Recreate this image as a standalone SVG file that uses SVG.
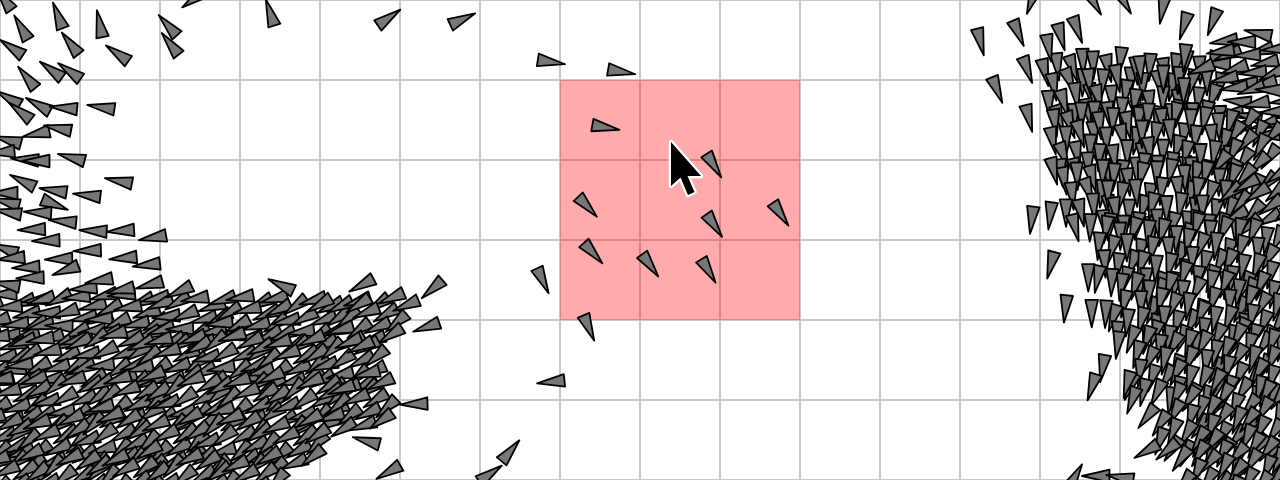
<svg xmlns="http://www.w3.org/2000/svg" width="1280" height="480" viewBox="0 0 1280 480">
<style>
.grid line{stroke:#c8c8c8;stroke-width:2}
.boid{fill:#777;stroke:#000;stroke-width:1.8;stroke-linejoin:round}
</style>
<defs>
<path id="b" class="boid" d="M18 0 L-9.5 -6.3 L-9.5 6.3 Z"/>
<g id="L1">
<use href="#b" transform="translate(6 5) rotate(162)"/><use href="#b" transform="translate(24 3) rotate(170)"/><use href="#b" transform="translate(43 8) rotate(154)"/><use href="#b" transform="translate(58 4) rotate(165)"/>
<use href="#b" transform="translate(12 17) rotate(150)"/><use href="#b" transform="translate(31 15) rotate(166)"/><use href="#b" transform="translate(50 19) rotate(158)"/>
<use href="#b" transform="translate(3 29) rotate(172)"/><use href="#b" transform="translate(21 30) rotate(152)"/><use href="#b" transform="translate(40 31) rotate(164)"/><use href="#b" transform="translate(59 28) rotate(147)"/>
<use href="#b" transform="translate(13 42) rotate(158)"/><use href="#b" transform="translate(33 43) rotate(171)"/><use href="#b" transform="translate(52 40) rotate(155)"/>
</g>
<g id="L2">
<use href="#b" transform="translate(3 8) rotate(158)"/><use href="#b" transform="translate(20 5) rotate(148)"/><use href="#b" transform="translate(38 2) rotate(168)"/><use href="#b" transform="translate(55 9) rotate(160)"/>
<use href="#b" transform="translate(10 21) rotate(172)"/><use href="#b" transform="translate(28 18) rotate(155)"/><use href="#b" transform="translate(47 22) rotate(163)"/><use href="#b" transform="translate(62 20) rotate(150)"/>
<use href="#b" transform="translate(5 34) rotate(160)"/><use href="#b" transform="translate(24 33) rotate(176)"/><use href="#b" transform="translate(41 36) rotate(150)"/><use href="#b" transform="translate(57 34) rotate(166)"/>
<use href="#b" transform="translate(16 45) rotate(154)"/><use href="#b" transform="translate(46 46) rotate(162)"/>
</g>
<g id="R1">
<use href="#b" transform="translate(5 6) rotate(88)"/><use href="#b" transform="translate(19 3) rotate(96)"/><use href="#b" transform="translate(33 8) rotate(84)"/><use href="#b" transform="translate(45 4) rotate(100)"/>
<use href="#b" transform="translate(11 22) rotate(92)"/><use href="#b" transform="translate(27 20) rotate(80)"/><use href="#b" transform="translate(41 24) rotate(104)"/>
<use href="#b" transform="translate(3 38) rotate(98)"/><use href="#b" transform="translate(17 40) rotate(86)"/><use href="#b" transform="translate(31 36) rotate(94)"/><use href="#b" transform="translate(46 40) rotate(90)"/>
<use href="#b" transform="translate(9 54) rotate(84)"/><use href="#b" transform="translate(25 56) rotate(100)"/><use href="#b" transform="translate(39 54) rotate(92)"/>
</g>
<g id="R2">
<use href="#b" transform="translate(8 3) rotate(94)"/><use href="#b" transform="translate(22 8) rotate(84)"/><use href="#b" transform="translate(36 2) rotate(102)"/>
<use href="#b" transform="translate(2 20) rotate(90)"/><use href="#b" transform="translate(16 22) rotate(100)"/><use href="#b" transform="translate(30 19) rotate(86)"/><use href="#b" transform="translate(44 23) rotate(96)"/>
<use href="#b" transform="translate(9 37) rotate(82)"/><use href="#b" transform="translate(23 39) rotate(92)"/><use href="#b" transform="translate(38 35) rotate(104)"/>
<use href="#b" transform="translate(4 53) rotate(96)"/><use href="#b" transform="translate(18 55) rotate(88)"/><use href="#b" transform="translate(32 52) rotate(100)"/><use href="#b" transform="translate(46 56) rotate(84)"/>
</g>
</defs>
<rect width="1280" height="480" fill="#fff"/>
<g class="grid" id="grid">
<line x1="0" y1="0" x2="0" y2="480"/><line x1="80" y1="0" x2="80" y2="480"/><line x1="160" y1="0" x2="160" y2="480"/><line x1="240" y1="0" x2="240" y2="480"/><line x1="320" y1="0" x2="320" y2="480"/><line x1="400" y1="0" x2="400" y2="480"/><line x1="480" y1="0" x2="480" y2="480"/><line x1="560" y1="0" x2="560" y2="480"/><line x1="640" y1="0" x2="640" y2="480"/><line x1="720" y1="0" x2="720" y2="480"/><line x1="800" y1="0" x2="800" y2="480"/><line x1="880" y1="0" x2="880" y2="480"/><line x1="960" y1="0" x2="960" y2="480"/><line x1="1040" y1="0" x2="1040" y2="480"/><line x1="1120" y1="0" x2="1120" y2="480"/><line x1="1200" y1="0" x2="1200" y2="480"/><line x1="1280" y1="0" x2="1280" y2="480"/>
<line x1="0" y1="0" x2="1280" y2="0"/><line x1="0" y1="80" x2="1280" y2="80"/><line x1="0" y1="160" x2="1280" y2="160"/><line x1="0" y1="240" x2="1280" y2="240"/><line x1="0" y1="320" x2="1280" y2="320"/><line x1="0" y1="400" x2="1280" y2="400"/><line x1="0" y1="480" x2="1280" y2="480"/>
</g>
<rect id="highlight" x="560" y="80" width="240" height="240" fill="#ff0000" fill-opacity="0.33"/>
<g id="flock-left">
<use href="#L1" transform="translate(-20 292) rotate(8 32 24)"/><use href="#L2" transform="translate(40 294) rotate(6 32 24)"/><use href="#L1" transform="translate(100 292) rotate(4 32 24)"/><use href="#L2" transform="translate(160 296) rotate(2 32 24)"/><use href="#L1" transform="translate(220 294) rotate(0 32 24)"/><use href="#L2" transform="translate(280 298) rotate(-4 32 24)"/><use href="#L1" transform="translate(340 296) rotate(-8 32 24)"/>
<use href="#L2" transform="translate(-40 334) rotate(4 32 24)"/><use href="#L1" transform="translate(20 336) rotate(0 32 24)"/><use href="#L2" transform="translate(80 332) rotate(-3 32 24)"/><use href="#L1" transform="translate(140 336) rotate(-5 32 24)"/><use href="#L2" transform="translate(200 334) rotate(-6 32 24)"/><use href="#L1" transform="translate(260 338) rotate(-8 32 24)"/><use href="#L2" transform="translate(318 340) rotate(-10 32 24)"/>
<use href="#L1" transform="translate(-20 376) rotate(-2 32 24)"/><use href="#L2" transform="translate(40 378) rotate(-6 32 24)"/><use href="#L1" transform="translate(100 374) rotate(-8 32 24)"/><use href="#L2" transform="translate(160 378) rotate(-10 32 24)"/><use href="#L1" transform="translate(220 376) rotate(-10 32 24)"/><use href="#L2" transform="translate(280 380) rotate(-12 32 24)"/><use href="#L1" transform="translate(330 382) rotate(-10 32 24)"/>
<use href="#L2" transform="translate(-40 416) rotate(-8 32 24)"/><use href="#L1" transform="translate(20 418) rotate(-10 32 24)"/><use href="#L2" transform="translate(80 414) rotate(-12 32 24)"/><use href="#L1" transform="translate(140 418) rotate(-14 32 24)"/><use href="#L2" transform="translate(200 416) rotate(-12 32 24)"/><use href="#L1" transform="translate(260 420) rotate(-14 32 24)"/>
<use href="#L1" transform="translate(-20 454) rotate(-12 32 24)"/><use href="#L2" transform="translate(40 456) rotate(-14 32 24)"/><use href="#L1" transform="translate(100 452) rotate(-16 32 24)"/><use href="#L2" transform="translate(160 456) rotate(-14 32 24)"/><use href="#L1" transform="translate(220 458) rotate(-16 32 24)"/>
</g>
<g id="flock-right">
<use href="#R1" transform="translate(1044 58) rotate(-12 24 32)"/><use href="#R2" transform="translate(1088 56) rotate(-6 24 32)"/><use href="#R1" transform="translate(1132 60) rotate(-2 24 32)"/><use href="#R2" transform="translate(1176 58) rotate(4 24 32)"/>
<use href="#L1" transform="translate(1218 40) rotate(10 32 24)"/><use href="#L2" transform="translate(1230 86) rotate(14 32 24)"/>
<use href="#R2" transform="translate(1052 112) rotate(-12 24 32)"/><use href="#R1" transform="translate(1096 114) rotate(-4 24 32)"/><use href="#R2" transform="translate(1140 110) rotate(0 24 32)"/><use href="#R1" transform="translate(1184 114) rotate(4 24 32)"/><use href="#R2" transform="translate(1226 120) rotate(30 24 32)"/>
<use href="#R1" transform="translate(1062 168) rotate(-8 24 32)"/><use href="#R2" transform="translate(1106 170) rotate(0 24 32)"/><use href="#R1" transform="translate(1150 166) rotate(4 24 32)"/><use href="#R2" transform="translate(1194 170) rotate(8 24 32)"/><use href="#L1" transform="translate(1232 176) rotate(-20 32 24)"/>
<use href="#R2" transform="translate(1096 224) rotate(5 24 32)"/><use href="#R1" transform="translate(1140 226) rotate(8 24 32)"/><use href="#R2" transform="translate(1184 222) rotate(10 24 32)"/><use href="#R1" transform="translate(1228 226) rotate(14 24 32)"/>
<use href="#R1" transform="translate(1112 280) rotate(10 24 32)"/><use href="#R2" transform="translate(1156 282) rotate(12 24 32)"/><use href="#R1" transform="translate(1200 278) rotate(14 24 32)"/><use href="#R2" transform="translate(1244 282) rotate(18 24 32)"/>
<use href="#R2" transform="translate(1132 336) rotate(15 24 32)"/><use href="#R1" transform="translate(1176 338) rotate(18 24 32)"/><use href="#R2" transform="translate(1220 334) rotate(20 24 32)"/><use href="#R1" transform="translate(1258 338) rotate(20 24 32)"/>
<use href="#R1" transform="translate(1160 392) rotate(25 24 32)"/><use href="#R2" transform="translate(1204 394) rotate(25 24 32)"/><use href="#R1" transform="translate(1248 390) rotate(28 24 32)"/>
<use href="#R2" transform="translate(1190 440) rotate(30 24 32)"/><use href="#R1" transform="translate(1236 442) rotate(30 24 32)"/>
</g>
<g id="boids">
<use href="#b" transform="translate(6 2) rotate(-125)"/><use href="#b" transform="translate(59.4 19.4) rotate(-111)"/><use href="#b" transform="translate(23.3 31.1) rotate(-120)"/><use href="#b" transform="translate(72.8 46.7) rotate(-128)"/><use href="#b" transform="translate(100.6 27.8) rotate(-102)"/><use href="#b" transform="translate(15 50) rotate(-146)"/><use href="#b" transform="translate(120.6 55.7) rotate(-145)"/><use href="#b" transform="translate(170.6 28.3) rotate(-132)"/><use href="#b" transform="translate(172.8 47.2) rotate(-128)"/><use href="#b" transform="translate(271.4 16.5) rotate(-108)"/><use href="#b" transform="translate(197 -3) rotate(145)"/>
<use href="#b" transform="translate(29.4 80.6) rotate(-129)"/><use href="#b" transform="translate(54.4 72.2) rotate(-144)"/><use href="#b" transform="translate(72.8 73.5) rotate(-145)"/><use href="#b" transform="translate(11.7 100) rotate(-150)"/><use href="#b" transform="translate(23.3 113.9) rotate(-142)"/><use href="#b" transform="translate(41.7 106.7) rotate(-151)"/><use href="#b" transform="translate(67.6 108.3) rotate(-175)"/><use href="#b" transform="translate(105 107.8) rotate(-171)"/>
<use href="#b" transform="translate(40 133.1) rotate(168)"/><use href="#b" transform="translate(61.7 128.9) rotate(-169)"/><use href="#b" transform="translate(11.7 141.1) rotate(-165)"/><use href="#b" transform="translate(5 152) rotate(175)"/><use href="#b" transform="translate(28.9 159.7) rotate(-176)"/><use href="#b" transform="translate(40 161) rotate(180)"/><use href="#b" transform="translate(75.3 158.6) rotate(-165)"/>
<use href="#b" transform="translate(26.1 182.8) rotate(-154)"/><use href="#b" transform="translate(122.6 181.7) rotate(-169)"/><use href="#b" transform="translate(57.2 190.9) rotate(-171)"/><use href="#b" transform="translate(90.9 195.8) rotate(-173)"/><use href="#b" transform="translate(8 193) rotate(180)"/><use href="#b" transform="translate(10 203) rotate(-165)"/><use href="#b" transform="translate(51.1 203.1) rotate(22)"/><use href="#b" transform="translate(11.7 212.8) rotate(-170)"/><use href="#b" transform="translate(41.7 212.6) rotate(-177)"/><use href="#b" transform="translate(66.7 221.7) rotate(-174)"/><use href="#b" transform="translate(35.6 229.4) rotate(178)"/><use href="#b" transform="translate(97.2 231.1) rotate(-177)"/><use href="#b" transform="translate(124.6 230.6) rotate(176)"/><use href="#b" transform="translate(156.7 237) rotate(170)"/>
<use href="#b" transform="translate(50 240.6) rotate(178)"/><use href="#b" transform="translate(8 250) rotate(-160)"/><use href="#b" transform="translate(15 258) rotate(175)"/><use href="#b" transform="translate(62.8 258.9) rotate(178)"/><use href="#b" transform="translate(30 267.2) rotate(177)"/><use href="#b" transform="translate(69.4 268.9) rotate(160)"/><use href="#b" transform="translate(34.2 277.8) rotate(178)"/><use href="#b" transform="translate(10 285) rotate(-170)"/><use href="#b" transform="translate(87.2 288.3) rotate(175)"/><use href="#b" transform="translate(103 280) rotate(170)"/>
<use href="#b" transform="translate(91.4 250.6) rotate(178)"/><use href="#b" transform="translate(127.2 257.8) rotate(175)"/><use href="#b" transform="translate(150.5 264.5) rotate(173)"/><use href="#b" transform="translate(124.5 289.4) rotate(168)"/><use href="#b" transform="translate(153.3 283.9) rotate(165)"/><use href="#b" transform="translate(183 289.8) rotate(155)"/>
<use href="#b" transform="translate(284.7 286.8) rotate(-155)"/><use href="#b" transform="translate(365.1 283.3) rotate(152)"/><use href="#b" transform="translate(435.3 286.4) rotate(139)"/><use href="#b" transform="translate(409.7 303.9) rotate(157)"/><use href="#b" transform="translate(430.2 325.8) rotate(161)"/><use href="#b" transform="translate(361.7 302.8) rotate(148)"/><use href="#b" transform="translate(322.8 302.8) rotate(150)"/><use href="#b" transform="translate(364 345) rotate(155)"/><use href="#b" transform="translate(370 373) rotate(165)"/><use href="#b" transform="translate(345 388) rotate(160)"/><use href="#b" transform="translate(418 403.9) rotate(178)"/><use href="#b" transform="translate(320 433) rotate(145)"/><use href="#b" transform="translate(370.2 441.9) rotate(-165)"/><use href="#b" transform="translate(392 470) rotate(150)"/>
<use href="#b" transform="translate(385.6 20) rotate(-35)"/><use href="#b" transform="translate(458.9 20.9) rotate(-25)"/><use href="#b" transform="translate(547.2 61.4) rotate(9)"/><use href="#b" transform="translate(617.5 71.1) rotate(10)"/><use href="#b" transform="translate(601.7 126.7) rotate(10)"/><use href="#b" transform="translate(711.7 162) rotate(58)"/><use href="#b" transform="translate(584.7 203.7) rotate(47)"/><use href="#b" transform="translate(712 222) rotate(56)"/><use href="#b" transform="translate(778.3 210.7) rotate(56)"/><use href="#b" transform="translate(590.3 250) rotate(48)"/><use href="#b" transform="translate(647.7 262) rotate(54)"/><use href="#b" transform="translate(706.3 267.3) rotate(59)"/><use href="#b" transform="translate(587.2 324.1) rotate(67)"/><use href="#b" transform="translate(541 277) rotate(65)"/><use href="#b" transform="translate(555 381.4) rotate(174)"/><use href="#b" transform="translate(507.8 454.1) rotate(-50)"/><use href="#b" transform="translate(487 476) rotate(-35)"/>
<use href="#b" transform="translate(979.4 37.8) rotate(76)"/><use href="#b" transform="translate(1016.7 29.4) rotate(67)"/><use href="#b" transform="translate(995.6 86.1) rotate(68)"/><use href="#b" transform="translate(1027.8 114.4) rotate(76)"/><use href="#b" transform="translate(1052.8 167.2) rotate(76)"/><use href="#b" transform="translate(1032.2 216.1) rotate(97)"/><use href="#b" transform="translate(1050.6 211.7) rotate(97)"/><use href="#b" transform="translate(1185 22.2) rotate(107)"/><use href="#b" transform="translate(1213.9 18.3) rotate(110)"/><use href="#b" transform="translate(1163 6) rotate(100)"/><use href="#b" transform="translate(1185 53.9) rotate(96)"/><use href="#b" transform="translate(1140 65.6) rotate(86)"/><use href="#b" transform="translate(1163.3 75) rotate(90)"/><use href="#b" transform="translate(1060 33) rotate(75)"/><use href="#b" transform="translate(1076 26) rotate(70)"/><use href="#b" transform="translate(1048 44) rotate(80)"/><use href="#b" transform="translate(1026 66) rotate(70)"/><use href="#b" transform="translate(1033 -3) rotate(110)"/><use href="#b" transform="translate(1092 -1) rotate(60)"/><use href="#b" transform="translate(1122 -2) rotate(60)"/><use href="#b" transform="translate(1183.9 87.6) rotate(92)"/><use href="#b" transform="translate(1224.4 51.1) rotate(172)"/><use href="#b" transform="translate(1262 34) rotate(-168)"/><use href="#b" transform="translate(1204.4 67.8) rotate(159)"/>
<use href="#b" transform="translate(1051.9 261.1) rotate(105)"/><use href="#b" transform="translate(1065.8 304.8) rotate(96)"/><use href="#b" transform="translate(1091.7 309.3) rotate(90)"/><use href="#b" transform="translate(1106 310) rotate(93)"/><use href="#b" transform="translate(1088.3 273.6) rotate(90)"/><use href="#b" transform="translate(1118.3 341.1) rotate(98)"/><use href="#b" transform="translate(1103.3 364.4) rotate(100)"/><use href="#b" transform="translate(1093.1 383.3) rotate(108)"/><use href="#b" transform="translate(1128.3 380.6) rotate(105)"/><use href="#b" transform="translate(1133.3 396.7) rotate(110)"/><use href="#b" transform="translate(1149.4 413.9) rotate(128)"/><use href="#b" transform="translate(1150 449) rotate(150)"/><use href="#b" transform="translate(1170 448) rotate(140)"/><use href="#b" transform="translate(1183 456) rotate(125)"/><use href="#b" transform="translate(1100 476) rotate(180)"/><use href="#b" transform="translate(1124 478) rotate(-170)"/><use href="#b" transform="translate(1073 480) rotate(-60)"/>
</g>
<g id="cursor">
<path d="M671 142 L671 186 L680.5 177.5 L688 195 L694.5 192 L687.5 176 L701 176 Z" fill="#000" stroke="#fff" stroke-width="4.5" stroke-linejoin="round" paint-order="stroke"/>
</g>
</svg>
